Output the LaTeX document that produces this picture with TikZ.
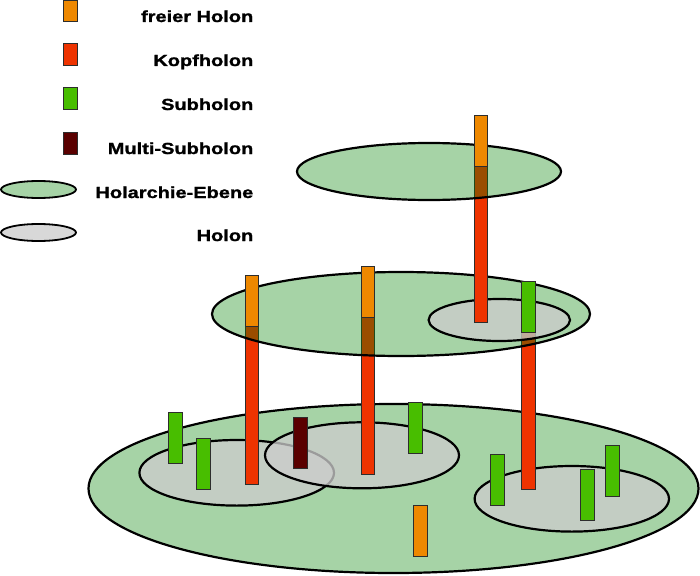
\documentclass[tikz,border=0pt]{standalone}
\usepackage{fontspec}
\newfontfamily\lgfont[FakeStretch=1.25,FakeBold=1.3]{Liberation Sans}
\definecolor{orangec}{RGB}{238,136,0}
\definecolor{redc}{RGB}{238,51,0}
\definecolor{greenc}{RGB}{72,190,0}
\definecolor{darkredc}{RGB}{90,0,0}
\definecolor{planec}{RGB}{0,128,0}
\definecolor{holonc}{RGB}{204,204,204}
\definecolor{barline}{RGB}{45,45,45}
\tikzset{
  holbar/.style={draw=barline, line width=1pt},
  plane/.style={fill=planec, fill opacity=0.35, draw=black, line width=2.2pt},
  holon/.style={fill=holonc, fill opacity=0.76, draw=black, line width=2.2pt},
  lbl/.style={anchor=base east, inner sep=0pt, font=\lgfont\bfseries\fontsize{16}{19}\selectfont},
}
\begin{document}
\begin{tikzpicture}[x=1pt,y=-1pt]
\useasboundingbox (0,0) rectangle (700,575);
% ---------- legend ----------
\draw[holbar, fill=orangec]  (63,1)   rectangle (77,22);
\draw[holbar, fill=redc]     (63,44)  rectangle (77,66);
\draw[holbar, fill=greenc]   (63,88)  rectangle (77,109);
\draw[holbar, fill=darkredc] (63,132) rectangle (77,154);
\draw[plane, line width=1.8pt] (38.5,189.5) ellipse [x radius=37.5pt, y radius=8.5pt];
\draw[holon, line width=1.8pt] (38.5,232.5) ellipse [x radius=37.5pt, y radius=8.5pt];
\node[lbl] (l1) at (253.5,22)    {freier Holon};
\node[lbl] (l2) at (253.5,66)    {Kopfholon};
\node[lbl] (l3) at (253.5,110)   {Subholon};
\node[lbl] (l4) at (253.5,154)   {Multi-Subholon};
\node[lbl] (l5) at (253.5,198)   {Holarchie-Ebene};
\node[lbl] (l6) at (253.5,241)   {Holon};
% ---------- bottom level ----------
\draw[plane] (393.5,488.5) ellipse [x radius=305pt, y radius=84.5pt];
\draw[holon] (236.7,472.8) ellipse [x radius=97.3pt, y radius=32.8pt];
\draw[holon] (362,455.3) ellipse [x radius=97pt, y radius=33pt];
\draw[holon] (571.8,498.8) ellipse [x radius=97.2pt, y radius=32.8pt];
\draw[holbar, fill=greenc]   (168.3,412)   rectangle (182,463);
\draw[holbar, fill=greenc]   (196.3,438.3) rectangle (210,489.3);
\draw[holbar, fill=darkredc] (293.3,417.3) rectangle (307.5,468.3);
\draw[holbar, fill=greenc]   (408.3,402.7) rectangle (422,453.3);
\draw[holbar, fill=greenc]   (490.3,454)   rectangle (504,505.3);
\draw[holbar, fill=greenc]   (580.7,469.7) rectangle (594.3,520.7);
\draw[holbar, fill=greenc]   (605.7,445.3) rectangle (619.3,496.3);
\draw[holbar, fill=orangec]  (413.7,505.3) rectangle (427.5,556.3);
% Kopfholon bars reaching down from the middle level
\draw[holbar, fill=redc] (245,326)     rectangle (258.3,484);
\draw[holbar, fill=redc] (361.7,317.3) rectangle (374.5,474.3);
\draw[holbar, fill=redc] (521.7,332.3) rectangle (535.3,489);
% ---------- middle level ----------
\draw[plane] (401,314) ellipse [x radius=189pt, y radius=42pt];
\draw[holon] (499.3,320) ellipse [x radius=70.7pt, y radius=21pt];
\draw[holbar, fill=orangec] (245,275.7)   rectangle (258.3,326);
\draw[holbar, fill=orangec] (361.7,266)   rectangle (374.5,317.3);
\draw[holbar, fill=greenc]  (521.7,281.7) rectangle (535.3,332.3);
\draw[holbar, fill=redc]    (474,166)     rectangle (487.3,322.7);
% ---------- top level ----------
\draw[plane] (429,171.5) ellipse [x radius=132pt, y radius=28.5pt];
\draw[holbar, fill=orangec] (474,115) rectangle (487.3,166);
\end{tikzpicture}
\end{document}
